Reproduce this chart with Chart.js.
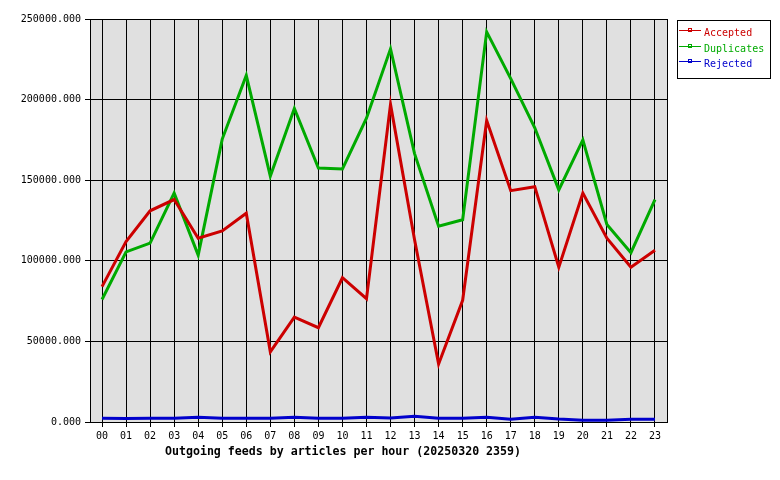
<!DOCTYPE html>
<html>
<head>
<meta charset="utf-8">
<script src="https://cdn.jsdelivr.net/npm/chart.js@4.4.0/dist/chart.umd.min.js"></script>
<style>
  html, body { margin: 0; padding: 0; background: #fff; }
  canvas { display: block; }
</style>
</head>
<body>
<canvas id="feeds" width="780" height="480"></canvas>
<script>
// hourly categories
var hours = ["00", "01", "02", "03", "04", "05", "06", "07", "08", "09", "10", "11",
             "12", "13", "14", "15", "16", "17", "18", "19", "20", "21", "22", "23"];

// articles per hour
var accepted = [84000, 112000, 131000, 138000, 114000, 118500, 129500, 43500, 65000, 58500, 89500, 76500,
                197000, 113000, 36000, 75500, 187000, 143500, 146000, 96000, 142000, 114000, 96000, 106500];
var duplicates = [76000, 105500, 111000, 142000, 103500, 175500, 215000, 152500, 194500, 157500, 157000, 188500,
                  231500, 166500, 121500, 125500, 242000, 213000, 182500, 144000, 175000, 122500, 105000, 138000];
var rejected = [2300, 2200, 2300, 2300, 3000, 2300, 2300, 2300, 3000, 2400, 2300, 3000,
                2500, 3600, 2400, 2400, 3000, 1700, 3000, 1800, 1100, 1100, 1700, 1700];

var yMax = 250000;
var yStep = 50000;
var xTitle = "Outgoing feeds by articles per hour (20250320 2359)";

var COLORS = {
  accepted: "#cc0000",
  duplicates: "#00aa00",
  rejected: "#0000cc",
  plot: "#e0e0e0",
  ink: "#000000"
};

var MONO = "'DejaVu Sans Mono', 'Liberation Mono', monospace";
Chart.defaults.font.family = MONO;
Chart.defaults.font.size = 10;
Chart.defaults.color = COLORS.ink;

// grey plot background
var plotBg = {
  id: "plotBg",
  beforeDraw: function (chart) {
    var a = chart.chartArea, ctx = chart.ctx;
    ctx.save();
    ctx.fillStyle = COLORS.plot;
    ctx.fillRect(a.left, a.top, a.right - a.left, a.bottom - a.top);
    ctx.restore();
  }
};

// frame, bottom title and boxed legend
var extras = {
  id: "extras",
  afterDraw: function (chart) {
    var a = chart.chartArea, ctx = chart.ctx;
    ctx.save();
    ctx.strokeStyle = COLORS.ink;
    ctx.lineWidth = 1;
    ctx.strokeRect(Math.round(a.left) + 0.5, Math.round(a.top) + 0.5,
                   Math.round(a.right - a.left), Math.round(a.bottom - a.top));

    ctx.fillStyle = COLORS.ink;
    ctx.font = "bold 11.6px " + MONO;
    ctx.textAlign = "center";
    ctx.textBaseline = "middle";
    ctx.fillText(xTitle, 343, 452);

    // legend
    var lx = 677, ly = 20;
    ctx.strokeStyle = COLORS.ink;
    ctx.strokeRect(lx + 0.5, ly + 0.5, 93, 58);
    ctx.font = "10px " + MONO;
    ctx.textAlign = "left";
    chart.data.datasets.forEach(function (ds, i) {
      var y = ly + 10 + Math.round(i * 15.5);
      var c = ds.borderColor;
      ctx.fillStyle = c;
      ctx.fillRect(lx + 2, y, 22, 1);
      ctx.strokeStyle = c;
      ctx.lineWidth = 1;
      ctx.strokeRect(lx + 11.5, y - 1.5, 3, 3);
      ctx.fillStyle = c;
      ctx.fillText(ds.label, lx + 27, y + 3);
    });
    ctx.restore();
  }
};

new Chart(document.getElementById("feeds"), {
  type: "line",
  data: {
    labels: hours,
    datasets: [
      { label: "Accepted", data: accepted, borderColor: COLORS.accepted },
      { label: "Duplicates", data: duplicates, borderColor: COLORS.duplicates },
      { label: "Rejected", data: rejected, borderColor: COLORS.rejected }
    ]
  },
  options: {
    responsive: false,
    animation: false,
    devicePixelRatio: 1,
    layout: { padding: { left: 0, right: 113, top: 19, bottom: 0 } },
    elements: {
      line: { borderWidth: 3, tension: 0, fill: false },
      point: { radius: 0, hoverRadius: 0 }
    },
    plugins: {
      legend: { display: false },
      tooltip: { enabled: false }
    },
    scales: {
      x: {
        offset: true,
        afterFit: function (s) { s.height = 58; },
        grid: { color: COLORS.ink, lineWidth: 1, tickLength: 5, tickColor: COLORS.ink, offset: false },
        border: { display: true, color: COLORS.ink },
        ticks: { padding: 3, maxRotation: 0, autoSkip: false, font: { size: 10, family: MONO } }
      },
      y: {
        min: 0,
        max: yMax,
        afterFit: function (s) { s.width = 90; },
        grid: { color: COLORS.ink, lineWidth: 1, tickLength: 5, tickColor: COLORS.ink },
        border: { display: true, color: COLORS.ink },
        ticks: {
          stepSize: yStep,
          padding: 4,
          font: { size: 10, family: MONO },
          callback: function (v) { return v.toFixed(3); }
        }
      }
    }
  },
  plugins: [plotBg, extras]
});
</script>
</body>
</html>
